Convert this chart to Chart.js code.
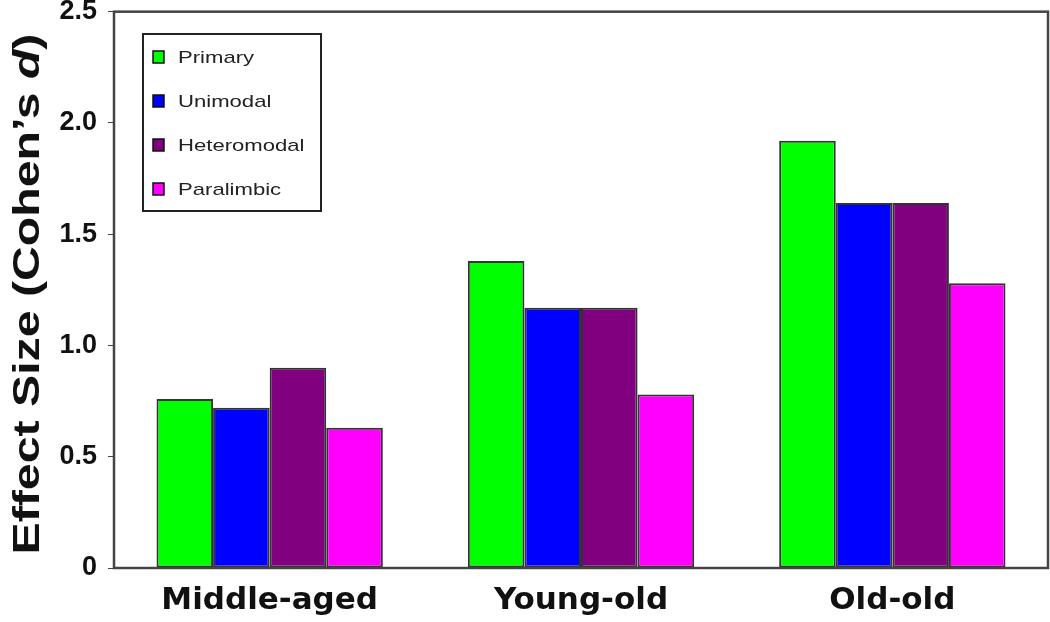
<!DOCTYPE html>
<html lang="en">
<head>
<meta charset="UTF-8">
<title>Effect size by age group</title>
<style>
  html, body { margin: 0; padding: 0; background: #fff; }
  #wrap { width: 1050px; height: 622px; }
</style>
</head>
<body>
<div id="wrap"><canvas id="myChart" width="1050" height="622"></canvas></div>
<script src="https://cdn.jsdelivr.net/npm/chart.js"></script>
<script>
const ageGroups = ["Middle-aged", "Young-old", "Old-old"];
const regionNames = ["Primary", "Unimodal", "Heteromodal", "Paralimbic"];
const primary = [0.76, 1.38, 1.92];
const unimodal = [0.72, 1.17, 1.64];
const heteromodal = [0.90, 1.17, 1.64];
const paralimbic = [0.63, 0.78, 1.28];
const yTicks = [0, 0.5, 1.0, 1.5, 2.0, 2.5];
const colors = ["#00ff00", "#0000ff", "#800080", "#ff00ff"];

const seriesValues = [primary, unimodal, heteromodal, paralimbic];

// frame around the plot, y axis title with italic d, legend box inside the plot
const extras = {
  id: 'extras',
  afterDraw(chart) {
    const ctx = chart.ctx;
    const a = chart.chartArea;
    ctx.save();
    ctx.strokeStyle = '#444';
    ctx.lineWidth = 2.5;
    ctx.strokeRect(a.left, a.top, a.right - a.left, a.bottom - a.top);
    ctx.restore();

    // y title, stretched along its length like the original figure
    ctx.save();
    ctx.translate(29, 294);
    ctx.rotate(-Math.PI / 2);
    ctx.scale(1.34, 1);
    ctx.fillStyle = '#111';
    ctx.textBaseline = 'middle';
    ctx.textAlign = 'left';
    const parts = [
      ["Effect Size (Cohen\u2019s ", 'bold 36px "Liberation Sans", Arial'],
      ["d", 'bold italic 36px "Liberation Sans", Arial'],
      [")", 'bold 36px "Liberation Sans", Arial']
    ];
    let total = 0;
    parts.forEach(p => { ctx.font = p[1]; total += ctx.measureText(p[0]).width; });
    let x = -total / 2;
    parts.forEach(p => {
      ctx.font = p[1];
      ctx.fillText(p[0], x, 0);
      x += ctx.measureText(p[0]).width;
    });
    ctx.restore();

    // legend
    ctx.save();
    const lx = 143, ly = 34, lw = 178, lh = 177;
    ctx.fillStyle = '#fff';
    ctx.fillRect(lx, ly, lw, lh);
    ctx.strokeStyle = '#222';
    ctx.lineWidth = 2;
    ctx.strokeRect(lx, ly, lw, lh);
    ctx.textBaseline = 'middle';
    chart.data.datasets.forEach((ds, i) => {
      const cy = ly + 23 + i * 44;
      ctx.fillStyle = ds.backgroundColor;
      ctx.fillRect(lx + 10, cy - 6, 11, 12);
      ctx.strokeStyle = '#111';
      ctx.lineWidth = 1.5;
      ctx.strokeRect(lx + 10, cy - 6, 11, 12);
      ctx.save();
      ctx.translate(lx + 35, cy + 1);
      ctx.scale(1.3, 1);
      ctx.font = '17px "Liberation Sans", Arial';
      ctx.fillStyle = '#222';
      ctx.fillText(ds.label, 0, 0);
      ctx.restore();
    });
    ctx.restore();
  }
};

new Chart(document.getElementById('myChart'), {
  type: 'bar',
  data: {
    labels: ageGroups,
    datasets: regionNames.map((name, i) => ({
      label: name,
      data: seriesValues[i],
      backgroundColor: colors[i],
      borderColor: '#333',
      borderWidth: 2,
      borderSkipped: false
    }))
  },
  options: {
    responsive: false,
    animation: false,
    layout: { padding: { top: 0, right: 2, left: 0, bottom: 0 } },
    plugins: {
      legend: { display: false },
      tooltip: { enabled: false }
    },
    datasets: {
      bar: { categoryPercentage: 0.727, barPercentage: 1.0 }
    },
    scales: {
      x: {
        grid: { display: false },
        border: { display: false },
        ticks: {
          color: '#111',
          font: { family: '"DejaVu Sans", Arial', size: 31, weight: 'bold' },
          padding: 6
        },
        afterFit(scale) { scale.height = 54; }
      },
      y: {
        min: 0,
        max: 2.5,
        afterBuildTicks(scale) { scale.ticks = yTicks.map(v => ({ value: v })); },
        grid: { drawOnChartArea: false, tickLength: 6, color: '#444', tickColor: '#444' },
        border: { display: false },
        ticks: {
          color: '#111',
          // tiny lineHeight only shrinks the space reserved above the top label
          font: { family: '"Liberation Sans", Arial', size: 27, weight: 'bold', lineHeight: 0.05 },
          padding: 11,
          callback: v => v === 0 ? '0' : v.toFixed(1)
        },
        afterFit(scale) { scale.width = 114; }
      }
    }
  },
  plugins: [extras]
});
</script>
</body>
</html>
